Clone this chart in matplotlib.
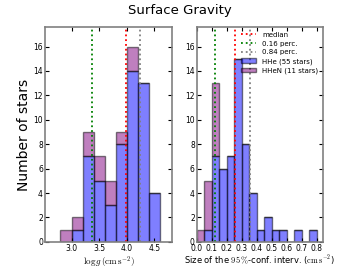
import matplotlib
matplotlib.use('Agg')
import matplotlib.pyplot as plt
import numpy as np

plt.rcParams['mathtext.fontset'] = 'cm'

# left panel: log g histogram (bin edges, stacked counts)
logg_edges = [2.8, 3.0, 3.2, 3.4, 3.6, 3.8, 4.0, 4.2, 4.4, 4.6]
logg_hhe = [0, 1, 7, 5, 3, 8, 14, 13, 4]
logg_hhen = [1, 1, 2, 2, 2, 1, 2, 0, 0]
logg_lines = [3.98, 3.37, 4.24]  # median, 0.16, 0.84

# right panel: size of 95% confidence interval
ci_edges = [0.0, 0.05, 0.1, 0.15, 0.2, 0.25, 0.3, 0.35, 0.4, 0.45,
            0.5, 0.55, 0.6, 0.65, 0.7, 0.75, 0.8]
ci_hhe = [0, 1, 7, 6, 7, 15, 8, 4, 1, 2, 1, 1, 0, 1, 0, 1]
ci_hhen = [1, 4, 6, 0, 0, 0, 0, 0, 0, 0, 0, 0, 0, 0, 0, 0]
ci_lines = [0.255, 0.122, 0.355]

line_colors = ['r', 'g', 'gray']
line_labels = ['median', '0.16 perc.', '0.84 perc.']

fig = plt.figure(figsize=(3.6, 2.7), dpi=100)
ax1 = fig.add_axes([0.125, 0.104, 0.353, 0.796])
ax2 = fig.add_axes([0.547, 0.104, 0.350, 0.796])


def draw(ax, edges, hhe, hhen, lines):
    edges = np.array(edges)
    w = np.diff(edges)
    hhe = np.array(hhe)
    b1 = ax.bar(edges[:-1], hhe, width=w, align='edge', color='blue', alpha=0.5,
                edgecolor='black', linewidth=1, label='HHe (55 stars)')
    b2 = ax.bar(edges[:-1], hhen, width=w, bottom=hhe, align='edge', color='purple',
                alpha=0.5, edgecolor='black', linewidth=1, label='HHeN (11 stars)')
    handles = []
    for x, c, lab in zip(lines, line_colors, line_labels):
        handles.append(ax.axvline(x, color=c, ls=':', lw=1.3, label=lab))
    ax.set_ylim(0, 17.6)
    ax.set_yticks(range(0, 17, 2))
    ax.tick_params(direction='in', labelsize=5.5, length=3, top=True, right=True,
                   pad=1.5)
    for s in ax.spines.values():
        s.set_color('gray')
        s.set_linewidth(1.2)
    return handles + [b1, b2]


draw(ax1, logg_edges, logg_hhe, logg_hhen, logg_lines)
handles = draw(ax2, ci_edges, ci_hhe, ci_hhen, ci_lines)

ax1.set_xlim(2.52, 4.82)
ax1.set_xticks([3.0, 3.5, 4.0, 4.5])
ax2.set_xlim(0, 0.842)
ax2.set_xticks(np.arange(0, 0.81, 0.1))
ax2.set_xticklabels(['%.1f' % t for t in np.arange(0, 0.81, 0.1)])

ax1.set_xlabel(r'$\log g\,(\mathrm{cm\,s^{-2}})$', fontsize=6.5, labelpad=1)
ax2.set_xlabel(r'Size of the $95\,\%$-conf. interv. ($\mathrm{cm\,s^{-2}}$)',
               fontsize=6, labelpad=1)
ax1.set_ylabel('Number of stars', fontsize=10, labelpad=2)

ax2.legend(handles, [h.get_label() for h in handles], loc='upper right',
           fontsize=5, frameon=False, handlelength=2.2, borderaxespad=0.3,
           labelspacing=0.4)

fig.suptitle('Surface Gravity', fontsize=9.5, y=0.985)

fig.savefig('out.png', dpi=100)
